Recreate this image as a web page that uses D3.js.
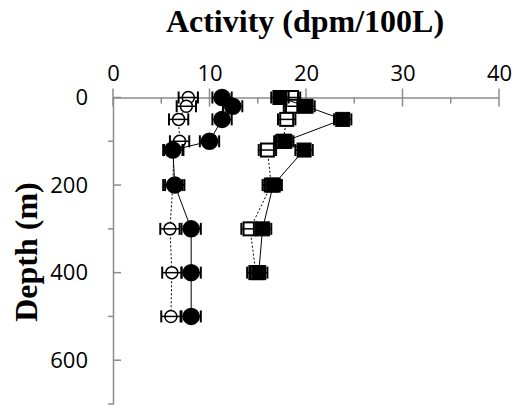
<!DOCTYPE html>
<html>
<head>
<meta charset="utf-8">
<script src="https://cdn.jsdelivr.net/npm/d3@7"></script>
<style>
  body { margin: 0; background: #fff; }
  svg { display: block; }
</style>
</head>
<body>
<script>
// depth profiles
var depthCircle = [0, 20, 50, 100, 120, 200, 300, 400, 500]
var openCircle = [7.8, 7.6, 6.8, 6.9, 6.3, 6.2, 5.9, 6.1, 6.0]
var openCircleErr = [1.0, 1.0, 1.0, 1.0, 1.0, 1.0, 1.0, 1.0, 1.0]
var fullCircle = [11.3, 12.4, 11.3, 10.0, 6.2, 6.4, 8.1, 8.1, 8.1]
var fullCircleErr = [1.0, 1.0, 1.0, 1.0, 1.0, 1.0, 1.0, 1.0, 1.0]

var depthSquare = [0, 20, 50, 100, 120, 200, 300, 400]
var openSquare = [18.5, 18.6, 18.0, 17.6, 16.0, 16.4, 14.2, 14.8]
var openSquareErr = [0.9, 0.9, 0.9, 0.9, 0.9, 0.9, 0.9, 0.9]
var fullSquare = [17.3, 20.0, 23.8, 17.8, 19.8, 16.6, 15.5, 15.1]
var fullSquareErr = [0.9, 0.9, 0.9, 0.9, 0.9, 0.9, 0.9, 0.9]

var xTicks = [0, 10, 20, 30, 40]
var xMinor = [5, 15, 25, 35]
var yTicks = [0, 200, 400, 600]
var yMinor = [100, 300, 500, 700]

var width = 516
var height = 408
var axisColor = "#8c8c8c"

var svg = d3.select("body").append("svg")
    .attr("width", width)
    .attr("height", height)

var x = d3.scaleLinear().domain([0, 40]).range([113, 499])
var y = d3.scaleLinear().domain([0, 700]).range([97.5, 404])

// x as bovenaan
var xAxis = svg.append("g")
    .attr("transform", `translate(0,${y(0)})`)
    .call(d3.axisTop(x).tickValues(xTicks).tickSize(0).tickPadding(17))
xAxis.select(".domain").attr("stroke", axisColor).attr("stroke-width", 1.5)
xAxis.selectAll("text")
    .style("font-family", "Open Sans")
    .style("font-size", "22px")
    .attr("fill", "#000")

svg.append("g").selectAll("line")
    .data(xTicks)
    .enter().append("line")
    .attr("x1", d => x(d)).attr("x2", d => x(d))
    .attr("y1", y(0) - 9).attr("y2", y(0) + 9)
    .attr("stroke", axisColor).attr("stroke-width", 1.5)

svg.append("g").selectAll("line")
    .data(xMinor)
    .enter().append("line")
    .attr("x1", d => x(d)).attr("x2", d => x(d))
    .attr("y1", y(0)).attr("y2", y(0) + 6)
    .attr("stroke", axisColor).attr("stroke-width", 1.5)

// y as
var yAxis = svg.append("g")
    .attr("transform", `translate(${x(0)},0)`)
    .call(d3.axisLeft(y).tickValues(yTicks).tickSize(0).tickPadding(25))
yAxis.select(".domain").attr("stroke", axisColor).attr("stroke-width", 1.5)
yAxis.selectAll("text")
    .style("font-family", "Open Sans")
    .style("font-size", "22px")
    .attr("fill", "#000")

svg.append("g").selectAll("line")
    .data(yTicks)
    .enter().append("line")
    .attr("x1", x(0)).attr("x2", x(0) + 8)
    .attr("y1", d => y(d)).attr("y2", d => y(d))
    .attr("stroke", axisColor).attr("stroke-width", 1.5)

svg.append("g").selectAll("line")
    .data(yMinor)
    .enter().append("line")
    .attr("x1", x(0) - 5).attr("x2", x(0))
    .attr("y1", d => y(d)).attr("y2", d => y(d))
    .attr("stroke", axisColor).attr("stroke-width", 1.5)

// titels
svg.append("text")
    .attr("x", 305)
    .attr("y", 32)
    .style("text-anchor", "middle")
    .style("font-family", "Liberation Serif")
    .style("font-weight", "bold")
    .style("font-size", "32px")
    .text("Activity (dpm/100L)")

svg.append("text")
    .attr("transform", "translate(37,252) rotate(-90)")
    .style("text-anchor", "middle")
    .style("font-family", "Liberation Serif")
    .style("font-weight", "bold")
    .style("font-size", "32px")
    .text("Depth (m)")

function series(depths, values, errs, shape, filled, dashed) {
  var pts = depths.map((d, i) => ({depth: d, value: values[i], err: errs[i]}))
  var g = svg.append("g")

  g.append("path")
    .datum(pts)
    .attr("fill", "none")
    .attr("stroke", "#000")
    .attr("stroke-width", 1)
    .attr("stroke-dasharray", dashed ? "2,2" : null)
    .attr("d", d3.line().x(d => x(d.value)).y(d => y(d.depth)))

  var p = g.selectAll(".pt")
    .data(pts)
    .enter().append("g")
    .attr("class", "pt")
    .attr("transform", d => `translate(${x(d.value)},${y(d.depth)})`)

  if (shape == "circle") {
    p.append("circle")
      .attr("r", filled ? 8 : 6)
      .attr("fill", filled ? "#000" : "#fff")
      .attr("stroke", "#000")
      .attr("stroke-width", 1.5)
  } else {
    var s = filled ? 14 : 13
    p.append("rect")
      .attr("x", -s / 2).attr("y", -s / 2)
      .attr("width", s).attr("height", s)
      .attr("fill", filled ? "#000" : "#fff")
      .attr("stroke", "#000")
      .attr("stroke-width", filled ? 1 : 2)
  }

  // foutbalken
  p.append("line")
    .attr("x1", d => x(d.value - d.err) - x(d.value))
    .attr("x2", d => x(d.value + d.err) - x(d.value))
    .attr("stroke", "#000").attr("stroke-width", 1.5)
  p.append("line")
    .attr("x1", d => x(d.value - d.err) - x(d.value))
    .attr("x2", d => x(d.value - d.err) - x(d.value))
    .attr("y1", -6).attr("y2", 6)
    .attr("stroke", "#000").attr("stroke-width", 2)
  p.append("line")
    .attr("x1", d => x(d.value + d.err) - x(d.value))
    .attr("x2", d => x(d.value + d.err) - x(d.value))
    .attr("y1", -6).attr("y2", 6)
    .attr("stroke", "#000").attr("stroke-width", 2)
}

series(depthCircle, openCircle, openCircleErr, "circle", false, true)
series(depthSquare, openSquare, openSquareErr, "square", false, true)
series(depthCircle, fullCircle, fullCircleErr, "circle", true, false)
series(depthSquare, fullSquare, fullSquareErr, "square", true, false)
</script>
</body>
</html>
